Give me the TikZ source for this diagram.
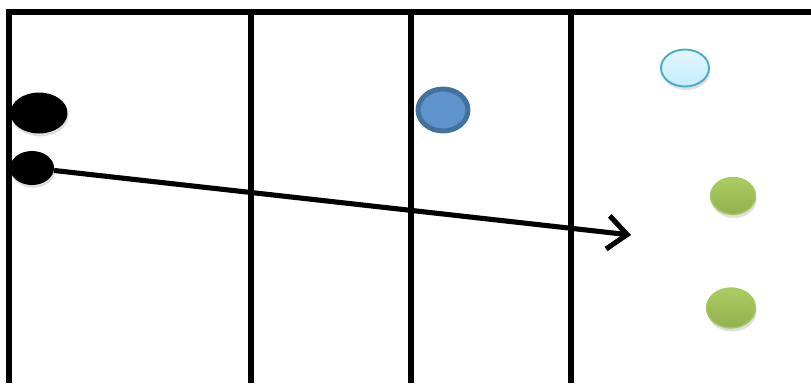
\documentclass[tikz,border=0pt]{standalone}
\usepackage{xcolor}
\usepackage{tikz}
\usetikzlibrary{arrows.meta,shapes.geometric,shadows}
\definecolor{LaneBlue}{HTML}{5E93CC}
\definecolor{LaneBlueEdge}{HTML}{41719C}
\definecolor{LaneCyanTop}{HTML}{E3F6FD}
\definecolor{LaneCyanBot}{HTML}{C4EDFB}
\definecolor{LaneCyanEdge}{HTML}{4BACC6}
\definecolor{LaneGreenTop}{HTML}{ABCD60}
\definecolor{LaneGreenBot}{HTML}{93B04F}
\definecolor{LaneGreenEdge}{HTML}{A6C964}
\tikzset{lane/.style={line width=3.6pt, draw=black, line join=miter}, tokenblack/.style={ellipse, fill=black, inner sep=0pt, drop shadow={opacity=0.25, shadow xshift=0.6pt, shadow yshift=-1.6pt}}, tokenblue/.style={ellipse, draw=LaneBlueEdge, line width=2.8pt, fill=LaneBlue, inner sep=0pt, minimum width=1.0cm, minimum height=0.84cm}, tokencyan/.style={ellipse, draw=LaneCyanEdge, line width=1.1pt, top color=LaneCyanTop, bottom color=LaneCyanBot, inner sep=0pt, minimum width=0.96cm, minimum height=0.74cm, drop shadow={opacity=0.25, shadow xshift=0.6pt, shadow yshift=-2pt}}, tokengreen/.style={ellipse, draw=LaneGreenEdge, line width=0.8pt, top color=LaneGreenTop, bottom color=LaneGreenBot, inner sep=0pt, drop shadow={opacity=0.25, shadow xshift=0.6pt, shadow yshift=-2pt}}, flowarrow/.style={line width=2.9pt, -{Straight Barb[length=11pt, width=19pt, line width=2.9pt]}}}

\begin{document}
\begin{tikzpicture}[x=0.02cm, y=-0.02cm]
\useasboundingbox (0,0) rectangle (811,383);
% tokens
\node[tokenblack, minimum width=1.14cm, minimum height=0.82cm] (start) at (39,113) {};
\node[tokenblack, minimum width=0.88cm, minimum height=0.68cm] (item) at (32,168) {};
\node[tokenblue] (gate) at (443,110) {};
\node[tokencyan] (pool) at (685,68) {};
\node[tokengreen, minimum width=0.9cm, minimum height=0.74cm] (done) at (733,196) {};
\node[tokengreen, minimum width=0.98cm, minimum height=0.8cm] (kept) at (731,308) {};
% lanes
\draw[lane] (9,383) -- (9,12) -- (811,12);
\draw[lane] (251,12) -- (251,383);
\draw[lane] (411,12) -- (411,383);
\draw[lane] (571,12) -- (571,383);
% flow
\coordinate (target) at (631,235);
\draw[flowarrow] (item) -- (target);
\end{tikzpicture}
\end{document}
